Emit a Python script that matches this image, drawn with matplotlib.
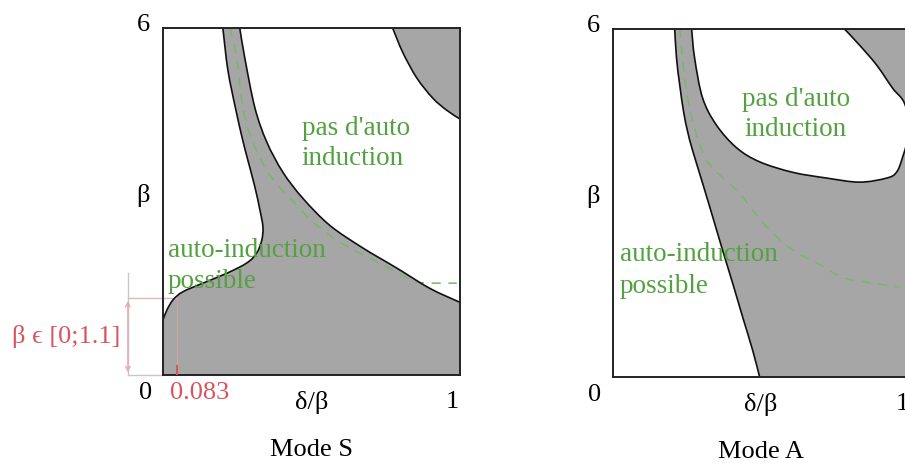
import matplotlib
matplotlib.use("Agg")
import matplotlib.pyplot as plt
from matplotlib.path import Path
from matplotlib.patches import PathPatch
import numpy as np

# ---------------- data (x = delta/beta, y = beta) ----------------
# Mode S : left boundary of the grey auto-induction region
s_left_x = [0.202, 0.219, 0.246, 0.269, 0.286, 0.310, 0.327, 0.337, 0.333, 0.316, 0.283,
            0.215, 0.135, 0.067, 0.034, 0.013, 0.0]
s_left_y = [6.0, 5.27, 4.58, 4.06, 3.72, 3.25, 2.85, 2.56, 2.33, 2.11, 1.94,
            1.76, 1.59, 1.44, 1.30, 1.12, 0.95]
# Mode S : right boundary of the grey region
s_right_x = [0.259, 0.276, 0.310, 0.350, 0.404, 0.471, 0.562, 0.673, 0.788, 0.899, 1.0]
s_right_y = [6.0, 5.48, 4.62, 4.03, 3.51, 3.06, 2.59, 2.20, 1.85, 1.50, 1.26]
# Mode S : top-right grey blob boundary
s_blob_x = [0.774, 0.808, 0.855, 0.909, 0.956, 1.0]
s_blob_y = [6.0, 5.58, 5.14, 4.79, 4.58, 4.43]
# Mode S : dashed green curve
s_dash_x = [0.226, 0.249, 0.269, 0.303, 0.360, 0.428, 0.505, 0.596, 0.697, 0.788, 0.855, 0.956, 0.99]
s_dash_y = [6.0, 5.48, 4.62, 4.03, 3.46, 3.06, 2.65, 2.30, 2.02, 1.78, 1.61, 1.59, 1.59]

# Mode A : left boundary of the grey band
a_left_x = [0.209, 0.215, 0.226, 0.239, 0.253, 0.269, 0.303, 0.337, 0.370, 0.404, 0.438, 0.471, 0.495]
a_left_y = [6.0, 5.50, 5.03, 4.57, 4.22, 3.91, 3.34, 2.76, 2.19, 1.62, 1.03, 0.47, 0.0]
# Mode A : white island ("pas d'auto induction") boundary
a_isl_x = [0.266, 0.276, 0.303, 0.350, 0.418, 0.495, 0.606, 0.721, 0.832, 0.923, 0.956, 0.976,
           1.0, 0.983, 0.943, 0.889, 0.832, 0.781]
a_isl_y = [6.0, 5.50, 4.81, 4.34, 3.95, 3.71, 3.53, 3.43, 3.36, 3.43, 3.53, 3.78,
           4.26, 4.72, 4.98, 5.38, 5.72, 6.0]
# Mode A : dashed green curve
a_dash_x = [0.226, 0.249, 0.283, 0.327, 0.418, 0.471, 0.529, 0.606, 0.687, 0.774, 0.875, 0.966]
a_dash_y = [6.0, 4.91, 4.17, 3.66, 3.22, 2.88, 2.53, 2.19, 1.97, 1.72, 1.62, 1.55]

# annotation values (Mode S)
beta_interval_label = "β ϵ [0;1.1]"
beta_marker = 1.33
x_marker = 0.047
x_marker_label = "0.083"

GREY = "#a6a6a6"
GREEN = "#52a23f"
DASHGREEN = "#7bb56a"
RED = "#d9535f"
PINK = "#e7a9ae"

plt.rcParams['font.family'] = ['Liberation Serif', 'DejaVu Serif']


def smooth(xs, ys, first=Path.MOVETO):
    """Catmull-Rom curve through the given points, as cubic Bezier path pieces."""
    P = np.column_stack([xs, ys]).astype(float)
    n = len(P)
    verts = [P[0]]
    codes = [first]
    for i in range(n - 1):
        p0 = P[i - 1] if i > 0 else P[i]
        p1, p2 = P[i], P[i + 1]
        p3 = P[i + 2] if i + 2 < n else P[i + 1]
        verts += [p1 + (p2 - p0) / 6.0, p2 - (p3 - p1) / 6.0, p2]
        codes += [Path.CURVE4] * 3
    return verts, codes


def region(pieces):
    """pieces: list of ('curve', xs, ys) or ('line', xs, ys)."""
    verts, codes = [], []
    for kind, xs, ys in pieces:
        first = Path.MOVETO if not verts else Path.LINETO
        if kind == "curve":
            v, c = smooth(xs, ys, first)
        else:
            v = [np.array([x, y]) for x, y in zip(xs, ys)]
            c = [first] + [Path.LINETO] * (len(v) - 1)
        verts += v
        codes += c
    verts.append(verts[0])
    codes.append(Path.CLOSEPOLY)
    return Path(verts, codes)


def curve_line(ax, xs, ys, **kw):
    v, c = smooth(xs, ys)
    ax.add_patch(PathPatch(Path(v, c), fill=False, **kw))


fig = plt.figure(figsize=(9.05, 4.76), dpi=100)
axS = fig.add_axes([0.180, 0.212, 0.328, 0.729])
axA = fig.add_axes([0.677, 0.208, 0.328, 0.731])

for ax in (axS, axA):
    ax.set_xlim(0, 1)
    ax.set_ylim(0, 6)
    ax.set_xticks([])
    ax.set_yticks([])
    for sp in ax.spines.values():
        sp.set_linewidth(1.4)
        sp.set_color("#222222")
        sp.set_zorder(5)

# ---------- Mode S ----------
pS = region([("curve", s_left_x, s_left_y),
             ("line", [0.0, 1.0], [0.0, 0.0]),
             ("curve", s_right_x[::-1], s_right_y[::-1])])
axS.add_patch(PathPatch(pS, facecolor=GREY, lw=0, zorder=1))
pB = region([("curve", s_blob_x, s_blob_y), ("line", [1.0], [6.0])])
axS.add_patch(PathPatch(pB, facecolor=GREY, lw=0, zorder=1))
for xs, ys in ((s_left_x, s_left_y), (s_right_x, s_right_y), (s_blob_x, s_blob_y)):
    curve_line(axS, xs, ys, edgecolor="#111111", lw=1.2, zorder=3)
curve_line(axS, s_dash_x, s_dash_y, edgecolor=DASHGREEN, lw=1.1, ls=(0, (6, 5)), zorder=2)

# ---------- Mode A ----------
pA = region([("curve", a_left_x, a_left_y), ("line", [1.0, 1.0], [0.0, 6.0])])
axA.add_patch(PathPatch(pA, facecolor=GREY, lw=0, zorder=1))
pI = region([("curve", a_isl_x, a_isl_y)])
axA.add_patch(PathPatch(pI, facecolor="white", lw=0, zorder=1.5))
curve_line(axA, a_left_x, a_left_y, edgecolor="#111111", lw=1.2, zorder=3)
curve_line(axA, a_isl_x, a_isl_y, edgecolor="#111111", lw=1.2, zorder=3)
curve_line(axA, a_dash_x, a_dash_y, edgecolor=DASHGREEN, lw=1.1, ls=(0, (6, 5)), zorder=2)

# ---------- text ----------
TS = 19
GS = 19.5
for ax, title in ((axS, "Mode S"), (axA, "Mode A")):
    ax.text(-0.064, 6.05, "6", fontsize=TS, ha="center", va="center", clip_on=False)
    ax.text(-0.067, 3.11, "β", fontsize=TS, ha="center", va="center", clip_on=False)
    ax.text(-0.060, -0.31, "0", fontsize=TS, ha="center", va="center", clip_on=False)
    ax.text(0.976, -0.47, "1", fontsize=TS, ha="center", va="center", clip_on=False)
    ax.text(0.50, -0.48, "δ/β", fontsize=TS, ha="center", va="center", clip_on=False)
    ax.text(0.50, -1.30, title, fontsize=TS, ha="center", va="center", clip_on=False)

axS.text(0.468, 4.27, "pas d'auto", color=GREEN, fontsize=GS, ha="left", va="center", zorder=4)
axS.text(0.468, 3.75, "induction", color=GREEN, fontsize=GS, ha="left", va="center", zorder=4)
axS.text(0.017, 2.16, "auto-induction", color=GREEN, fontsize=GS, ha="left", va="center", zorder=4)
axS.text(0.017, 1.61, "possible", color=GREEN, fontsize=GS, ha="left", va="center", zorder=4)

axA.text(0.434, 4.79, "pas d'auto", color=GREEN, fontsize=GS, ha="left", va="center", zorder=4)
axA.text(0.444, 4.27, "induction", color=GREEN, fontsize=GS, ha="left", va="center", zorder=4)
axA.text(0.024, 2.11, "auto-induction", color=GREEN, fontsize=GS, ha="left", va="center", zorder=4)
axA.text(0.024, 1.56, "possible", color=GREEN, fontsize=GS, ha="left", va="center", zorder=4)

# annotations (Mode S)
xa = -0.118
axS.plot([xa, xa], [0, 1.76], color="#c8c8c8", lw=1.0, clip_on=False, zorder=0)
axS.plot([xa, x_marker], [beta_marker, beta_marker], color="#d8b8b8", lw=1.0, clip_on=False, zorder=2)
axS.plot([xa, 0], [0, 0], color="#c8c8c8", lw=1.0, clip_on=False, zorder=2)
axS.annotate("", xy=(xa, 0), xytext=(xa, beta_marker),
             arrowprops=dict(arrowstyle="<->", color=PINK, lw=1.0, mutation_scale=8),
             annotation_clip=False)
axS.plot([x_marker, x_marker], [0, beta_marker], color="#c9a5a5", lw=0.9, zorder=2)
axS.plot([x_marker, x_marker], [0, 0.15], color=RED, lw=1.4, zorder=6)
axS.text(-0.327, 0.66, beta_interval_label, color=RED, fontsize=TS, ha="center", va="center", clip_on=False)
axS.text(0.024, -0.31, x_marker_label, color=RED, fontsize=TS, ha="left", va="center", clip_on=False)

fig.savefig("out.png", dpi=100)
